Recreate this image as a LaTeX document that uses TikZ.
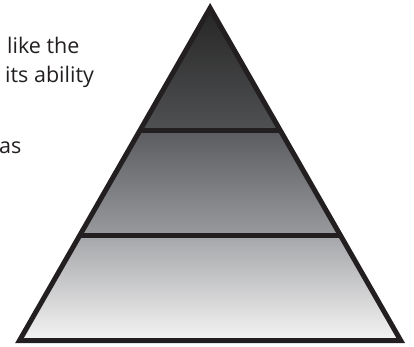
\documentclass[tikz,border=0pt]{standalone}
\usepackage{fontspec}
\setmainfont{Open Sans}
\usetikzlibrary{calc}
\definecolor{inkblack}{HTML}{231F20}
\begin{document}
\begin{tikzpicture}[x=1pt,y=-1pt, line join = miter, font=\fontsize{21.5}{26}\selectfont]
            \tikzset{band line/.style={draw=inkblack,line width=5pt},
                     text style/.style={anchor=base west,inner sep=0pt,text=inkblack}}
            \useasboundingbox (0,0) rectangle (414,347);
            \coordinate (apex) at (210.1,8);
            \coordinate (bl) at (19.5,340.5);
            \coordinate (br) at (400.7,340.5);
            \coordinate (l1) at ($(apex)!0.3684!(bl)$);
            \coordinate (r1) at ($(apex)!0.3684!(br)$);
            \coordinate (l2) at ($(apex)!0.6842!(bl)$);
            \coordinate (r2) at ($(apex)!0.6842!(br)$);
            \shade[top color={rgb,255:red,38;green,38;blue,38}, bottom color={rgb,255:red,80;green,81;blue,83}]
            (apex)--(r1)--(l1)--cycle;
            \shade[top color={rgb,255:red,91;green,92;blue,95}, bottom color={rgb,255:red,153;green,154;blue,157}]
            (l1)--(r1)--(r2)--(l2)--cycle;
            \shade[top color={rgb,255:red,165;green,166;blue,169}, bottom color={rgb,255:red,244;green,244;blue,244}]
            (l2)--(r2)--(br)--(bl)--cycle;
            \draw[band line] (l1)--(r1);
            \draw[band line] (l2)--(r2);
            \draw[band line] (apex)--(br)--(bl)--cycle;
            \node[text style] (line1) at (7,54) {like the};
            \node[text style] (line2) at (5,83) {its ability};
            \node[text style] (line3) at (-1,154) {as};
        \end{tikzpicture}
\end{document}
